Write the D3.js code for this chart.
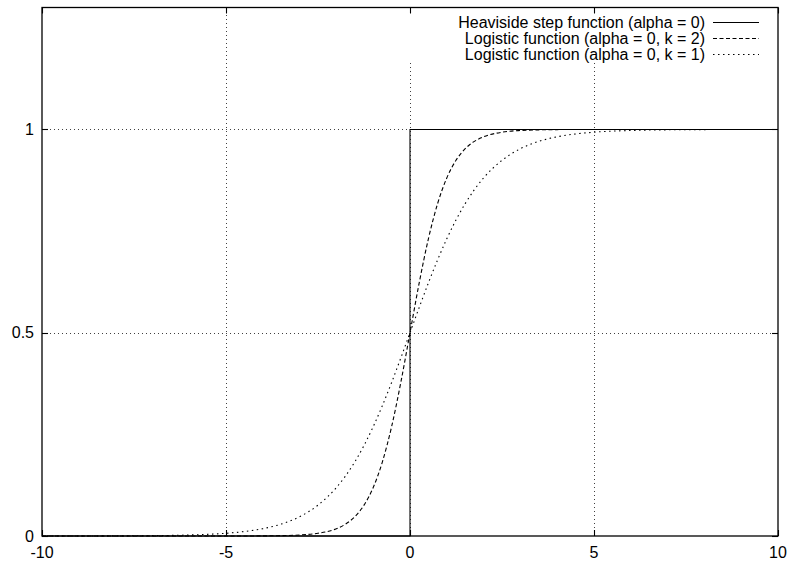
<!DOCTYPE html>
<html>
<head>
<meta charset="utf-8">
<script src="https://cdn.jsdelivr.net/npm/d3@7"></script>
<style>
  html, body { margin: 0; padding: 0; background: #fff; }
  svg { display: block; font-family: "Liberation Sans", Arial, Helvetica, sans-serif; }
</style>
</head>
<body>
<svg id="chart" width="789" height="562"></svg>
<script>
// ---- Data ----
const xTicks = [-10, -5, 0, 5, 10];
const yTicks = [0, 0.5, 1];
const xTickLabels = ["-10", "-5", "0", "5", "10"];
const yTickLabels = ["0", "0.5", "1"];

const seriesNames = [
  "Heaviside step function (alpha = 0)",
  "Logistic function (alpha = 0, k = 2)",
  "Logistic function (alpha = 0, k = 1)"
];

// Heaviside step
const stepX = [-10, 0, 0, 10];
const stepY = [0, 0, 1, 1];

// shared x samples for the logistic curves
const sampleX = [-10, -9, -8, -7, -6, -5, -4.5, -4, -3.5, -3, -2.5,
  -2, -1.75, -1.5, -1.25, -1, -0.75, -0.5, -0.25, 0, 0.25, 0.5, 0.75, 1, 1.25, 1.5, 1.75, 2,
  2.5, 3, 3.5, 4, 4.5, 5, 6, 7, 8, 9, 10];

// logistic k = 2
const logisticK2 = [0, 0, 0, 0, 0, 0.0000, 0.0001, 0.0003, 0.0009, 0.0025, 0.0067,
  0.0180, 0.0293, 0.0474, 0.0759, 0.1192, 0.1824, 0.2689, 0.3775, 0.5, 0.6225, 0.7311, 0.8176, 0.8808, 0.9241, 0.9526, 0.9707, 0.9820,
  0.9933, 0.9975, 0.9991, 0.9997, 0.9999, 1, 1, 1, 1, 1, 1];

// logistic k = 1
const logisticK1 = [0.0000, 0.0001, 0.0003, 0.0009, 0.0025, 0.0067, 0.0110, 0.0180, 0.0293, 0.0474, 0.0759,
  0.1192, 0.1480, 0.1824, 0.2227, 0.2689, 0.3208, 0.3775, 0.4378, 0.5, 0.5622, 0.6225, 0.6792, 0.7311, 0.7773, 0.8176, 0.8520, 0.8808,
  0.9241, 0.9526, 0.9707, 0.9820, 0.9890, 0.9933, 0.9975, 0.9991, 0.9997, 0.9999, 1.0000];

// ---- Layout ----
const svg = d3.select("#chart");
const plotL = 42, plotR = 778, plotT = 7.5, plotB = 536;

const x = d3.scaleLinear().domain([-10, 10]).range([plotL, plotR]);
const y = d3.scaleLinear().domain([0, 1.3]).range([plotB, plotT]);

// grid (dotted)
const grid = svg.append("g").attr("stroke", "#000").attr("stroke-width", 1)
  .attr("stroke-dasharray", "1,3").attr("fill", "none");
const legendBottom = 62, legendLeft = 400;
[-5, 0, 5].forEach(v => {
  const px = Math.round(x(v)) + 0.5;
  const y0 = (x(v) > legendLeft) ? legendBottom : plotT;
  grid.append("line").attr("x1", px).attr("x2", px).attr("y1", plotB).attr("y2", y0).attr("opacity", 0.75);
});
[0.5, 1].forEach(v => {
  const py = Math.round(y(v)) + 0.5;
  grid.append("line").attr("x1", plotL).attr("x2", plotR).attr("y1", py).attr("y2", py).attr("opacity", 0.75);
});

// curves
const line = d3.line().x(d => x(d[0])).y(d => y(d[1]));
const smooth = d3.line().x(d => x(d[0])).y(d => y(d[1])).curve(d3.curveMonotoneX);

const stepData = stepX.map((v, i) => [v, stepY[i]]);
const k2Data = sampleX.map((v, i) => [v, logisticK2[i]]);
const k1Data = sampleX.map((v, i) => [v, logisticK1[i]]);

const styles = [
  { dash: null, data: stepData, gen: line },
  { dash: "4,2.5", data: k2Data, gen: smooth },
  { dash: "1.5,3.5", data: k1Data, gen: smooth }
];

styles.slice().reverse().forEach(s => {
  svg.append("path").datum(s.data).attr("d", s.gen)
    .attr("fill", "none").attr("stroke", "#000").attr("stroke-width", 1.1)
    .attr("stroke-dasharray", s.dash);
});

// border
svg.append("rect").attr("x", plotL).attr("y", plotT).attr("width", plotR - plotL).attr("height", plotB - plotT)
  .attr("fill", "none").attr("stroke", "#000").attr("stroke-width", 1.3);

// ticks (mirrored, inward)
const tickLen = 6;
const ticks = svg.append("g").attr("stroke", "#000").attr("stroke-width", 1.1);
xTicks.forEach(v => {
  const px = Math.round(x(v)) + 0.5;
  ticks.append("line").attr("x1", px).attr("x2", px).attr("y1", plotB).attr("y2", plotB - tickLen);
  ticks.append("line").attr("x1", px).attr("x2", px).attr("y1", plotT).attr("y2", plotT + tickLen);
});
yTicks.forEach(v => {
  const py = Math.round(y(v)) + 0.5;
  ticks.append("line").attr("x1", plotL).attr("x2", plotL + tickLen).attr("y1", py).attr("y2", py);
  ticks.append("line").attr("x1", plotR).attr("x2", plotR - tickLen).attr("y1", py).attr("y2", py);
});

// tick labels
svg.append("g").selectAll("text").data(xTicks).join("text")
  .attr("x", d => x(d)).attr("y", 558)
  .attr("text-anchor", "middle").attr("font-size", 16).attr("fill", "#000")
  .text((d, i) => xTickLabels[i]);
svg.append("g").selectAll("text").data(yTicks).join("text")
  .attr("x", 34).attr("y", d => y(d)).attr("dy", "0.35em")
  .attr("text-anchor", "end").attr("font-size", 16).attr("fill", "#000")
  .text((d, i) => yTickLabels[i]);

// legend
const legendRows = [22, 38, 54];
seriesNames.forEach((name, i) => {
  const ry = legendRows[i];
  svg.append("text").attr("x", 705).attr("y", ry).attr("dy", "0.35em")
    .attr("text-anchor", "end").attr("font-size", 16).attr("fill", "#000").text(name);
  svg.append("line").attr("x1", 713).attr("x2", 759).attr("y1", ry + 0.5).attr("y2", ry + 0.5)
    .attr("stroke", "#000").attr("stroke-width", 1.1).attr("stroke-dasharray", styles[i].dash);
});
</script>
</body>
</html>
